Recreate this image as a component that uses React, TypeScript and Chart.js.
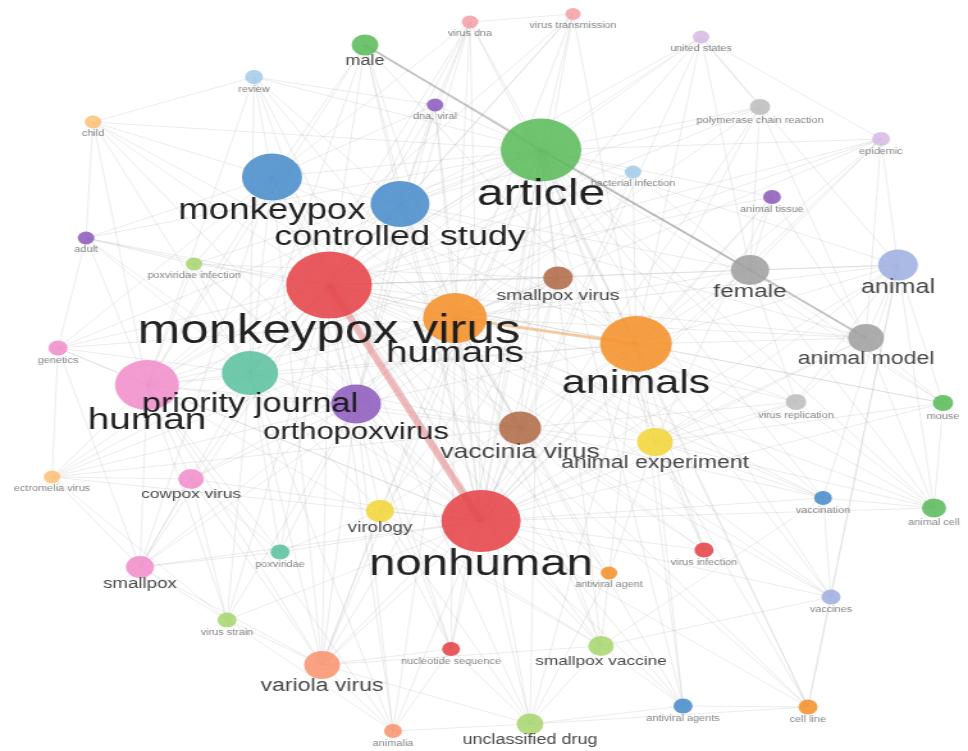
import React, { useEffect, useRef } from "react";
import { Chart, registerables } from "chart.js";

Chart.register(...registerables);

// ---------- data ----------
const nodeKeys = [
  "mpv", "nh", "art", "hms", "ans", "hmn", "mpx", "cs", "pj", "opv",
  "vv", "fem", "anl", "amod", "aexp", "spv", "sp", "cpv", "vir", "var",
  "spvac", "ucd", "male", "pcr", "vrep", "mou", "acell", "vdna", "vtr", "us",
  "rev", "dna", "child", "epi", "bact", "atis", "adult", "pxi", "gen", "ect",
  "vacn", "pxv", "vinf", "ava", "vcs", "vstr", "nseq", "avas", "cell", "anim",
];

const nodeLabels = [
  "monkeypox virus", "nonhuman", "article", "humans", "animals", "human", "monkeypox", "controlled study", "priority journal", "orthopoxvirus",
  "vaccinia virus", "female", "animal", "animal model", "animal experiment", "smallpox virus", "smallpox", "cowpox virus", "virology", "variola virus",
  "smallpox vaccine", "unclassified drug", "male", "polymerase chain reaction", "virus replication", "mouse", "animal cell", "virus dna", "virus transmission", "united states",
  "review", "dna, viral", "child", "epidemic", "bacterial infection", "animal tissue", "adult", "poxviridae infection", "genetics", "ectromelia virus",
  "vaccination", "poxviridae", "virus infection", "antiviral agent", "vaccines", "virus strain", "nucleotide sequence", "antiviral agents", "cell line", "animalia",
];

const layoutX = [
  329, 481, 541, 455, 636, 147, 272, 400, 250, 356,
  520, 750, 898, 866, 655, 558, 140, 191, 380, 322,
  601, 530, 365, 760, 796, 943, 934, 470, 573, 701,
  254, 435, 93, 881, 633, 772, 86, 194, 58, 52,
  823, 280, 704, 609, 831, 227, 451, 683, 808, 393,
];

const layoutY = [
  285, 521, 150, 318, 344, 385, 177, 204, 373, 404,
  428, 270, 265, 338, 442, 278, 567, 479, 511, 665,
  646, 724, 45, 107, 402, 403, 508, 22, 14, 37,
  77, 105, 122, 139, 172, 197, 238, 264, 348, 477,
  498, 552, 550, 573, 597, 620, 649, 706, 707, 731,
];

const weights = [
  33.5, 31, 31.5, 25, 28, 25, 23.5, 23, 22, 19.5,
  16.5, 15, 15.5, 14, 14, 11.5, 11, 10, 11, 14,
  10, 10.5, 10.5, 8, 8, 8, 9.5, 6.5, 6, 6.5,
  7, 6.5, 6.5, 7, 6.5, 7, 6.5, 6.5, 7.5, 6.5,
  7, 7.5, 7.5, 6.5, 7.5, 7.5, 7, 7.5, 7.5, 7,
];

const clusters = [
  "red", "red", "green", "orange", "orange", "pink", "blue", "blue", "teal", "purple",
  "brown", "gray", "periwinkle", "gray", "yellow", "brown", "pink", "pink", "yellow", "salmon",
  "lightgreen", "lightgreen", "green", "lightgray", "lightgray", "green", "green", "lightpink", "lightpink", "lightpurple",
  "lightblue", "purple", "lightorange", "lightpurple", "lightblue", "purple", "purple", "lightgreen", "pink", "lightorange",
  "blue", "teal", "red", "orange", "periwinkle", "lightgreen", "red", "blue", "orange", "salmon",
];

// co-occurrence links: node followed by its linked nodes
const adjacency = [
  "mpv: nh art hms ans hmn mpx cs pj opv vv spv fem anl amod aexp sp cpv vir var spvac ucd",
  "nh: art hms ans hmn mpx cs pj opv vv spv fem anl amod aexp sp cpv vir var spvac ucd",
  "art: hms ans hmn mpx cs pj opv vv spv fem anl amod aexp vir var spvac ucd",
  "hms: ans hmn mpx cs pj opv vv spv fem anl amod aexp sp var spvac ucd",
  "ans: hmn mpx cs pj opv vv spv fem anl amod aexp vir var ucd",
  "hmn: mpx cs pj opv vv sp cpv var spvac",
  "mpx: cs pj opv vv sp var rev child adult gen pxi male vdna",
  "cs: pj opv vv fem amod aexp rev dna pcr us vdna",
  "pj: opv vv sp var vir vstr pxv anim",
  "opv: vv spv cpv var ect pxv pxi",
  "vv: spv spvac aexp vrep vacn vcs cell ect",
  "fem: anl us pcr epi atis mou vrep acell",
  "anl: amod aexp us epi mou acell vcs",
  "amod: aexp vrep mou acell atis epi pcr",
  "aexp: vrep mou acell vacn vinf cell ava avas",
  "spv: var sp cpv vir ect pxi",
  "sp: var cpv vstr pxv ect gen",
  "cpv: var vstr pxv ect",
  "vir: var spvac ucd nseq pxv",
  "var: vstr nseq anim ucd spvac",
  "spvac: ucd vacn vcs avas ava",
  "ucd: avas ava cell nseq anim",
  "male: mpv nh hms ans cs hmn pj fem",
  "vdna: mpv nh art hms ans pj opv vtr dna",
  "vtr: mpv nh art hms ans hmn pj",
  "us: mpv nh art hms ans epi pcr",
  "rev: mpv nh art hms hmn pj child dna",
  "dna: mpv nh art hms mpx opv",
  "pcr: mpv nh art hms ans",
  "child: mpv nh hmn hms pj art adult",
  "epi: mpv nh art hms ans hmn",
  "bact: mpv nh art hms ans fem",
  "atis: mpv nh art ans aexp",
  "adult: mpv nh hmn hms pj art gen pxi",
  "pxi: mpv nh hmn pj art",
  "gen: mpv nh hmn pj hms art ect",
  "vrep: mpv nh art ans anl",
  "mou: mpv nh art ans acell",
  "ect: mpv nh hmn pj cpv vstr",
  "vacn: mpv nh art hms ans anl acell vcs",
  "acell: mpv nh art ans vrep",
  "pxv: mpv nh hmn",
  "vinf: mpv nh art ans vv",
  "ava: mpv nh ans hms",
  "vcs: mpv nh art ans hms",
  "vstr: mpv nh hmn opv",
  "nseq: mpv nh opv art hms",
  "avas: mpv nh art hms ans",
  "cell: mpv nh art ans anl avas vcs",
  "anim: mpv nh hmn hms opv nseq vstr",
];

const strongLinks: [string, string, string][] = [
  ["mpv", "nh", "red"],
  ["hms", "ans", "orange"],
  ["male", "art", "gray"],
  ["art", "fem", "gray"],
  ["fem", "amod", "gray"],
];

// ---------- styles ----------
const palette: Record<string, string> = {
  red: "rgba(229,72,76,0.9)",
  blue: "rgba(78,143,204,0.9)",
  green: "rgba(92,188,92,0.88)",
  orange: "rgba(245,148,48,0.9)",
  purple: "rgba(142,92,188,0.88)",
  brown: "rgba(176,108,72,0.88)",
  pink: "rgba(240,142,204,0.88)",
  gray: "rgba(160,160,160,0.88)",
  lightgray: "rgba(188,188,188,0.85)",
  teal: "rgba(92,194,158,0.88)",
  yellow: "rgba(243,214,58,0.88)",
  lightgreen: "rgba(168,214,112,0.88)",
  salmon: "rgba(248,148,112,0.88)",
  periwinkle: "rgba(158,176,225,0.88)",
  lightpink: "rgba(245,158,163,0.85)",
  lightpurple: "rgba(214,184,228,0.85)",
  lightblue: "rgba(162,203,234,0.85)",
  lightorange: "rgba(250,193,116,0.85)",
};

const strongStyle: Record<string, { color: string; width: number }> = {
  red: { color: "rgba(226,120,124,0.5)", width: 6 },
  orange: { color: "rgba(246,168,96,0.55)", width: 3 },
  gray: { color: "rgba(130,130,130,0.45)", width: 1.8 },
};

const STRETCH = 1.28;
const DISPLAY_W = 968;
const DISPLAY_H = 751;
const FONT = '"Liberation Sans", Arial, sans-serif';

function labelFont(r: number) {
  return r >= 10 ? 1.12 * r + 2.3 : 8.5;
}

function idx(key: string) {
  return nodeKeys.indexOf(key);
}

function buildEdges() {
  const seen = new Set<string>();
  const pairs: [number, number][] = [];
  adjacency.forEach((line) => {
    const [src, rest] = line.split(":");
    const a = idx(src.trim());
    rest.trim().split(/\s+/).forEach((t) => {
      const b = idx(t);
      if (a < 0 || b < 0 || a === b) return;
      const k = a < b ? `${a}-${b}` : `${b}-${a}`;
      if (seen.has(k)) return;
      seen.add(k);
      pairs.push([a, b]);
    });
  });
  return pairs;
}

function pairsToLine(pairs: [number, number][]) {
  const pts: { x: number; y: number | null }[] = [];
  pairs.forEach(([a, b]) => {
    pts.push({ x: layoutX[a], y: layoutY[a] });
    pts.push({ x: layoutX[b], y: layoutY[b] });
    pts.push({ x: layoutX[b], y: null });
  });
  return pts;
}

const labelPlugin = {
  id: "nodeLabels",
  afterDatasetsDraw(chart: any) {
    const meta = chart.getDatasetMeta(0);
    const ctx = chart.ctx;
    ctx.save();
    ctx.textAlign = "center";
    ctx.textBaseline = "alphabetic";
    meta.data.forEach((el: any, i: number) => {
      const r = weights[i];
      const fs = labelFont(r);
      ctx.font = `${fs}px ${FONT}`;
      ctx.fillStyle =
        fs >= 24 ? "rgba(22,22,22,0.95)" : fs >= 12 ? "rgba(55,55,55,0.92)" : "rgba(100,100,100,0.8)";
      const off = fs >= 12 ? 0.6 * fs + 1 : 0.7 * fs + 2;
      ctx.fillText(nodeLabels[i], el.x, el.y + r + off);
    });
    ctx.restore();
  },
};

export default function App() {
  const ref = useRef<HTMLCanvasElement | null>(null);

  useEffect(() => {
    if (!ref.current) return;
    const edges = buildEdges();
    const strongGroups: Record<string, [number, number][]> = {};
    strongLinks.forEach(([a, b, s]) => {
      (strongGroups[s] = strongGroups[s] || []).push([idx(a), idx(b)]);
    });

    const datasets: any[] = [
      {
        type: "bubble",
        data: nodeKeys.map((_, i) => ({ x: layoutX[i], y: layoutY[i], r: weights[i] })),
        backgroundColor: clusters.map((c) => palette[c]),
        borderWidth: 0,
        order: 0,
        clip: false,
      },
      {
        type: "line",
        data: pairsToLine(edges),
        borderColor: "rgba(165,165,165,0.24)",
        borderWidth: 0.9,
        pointRadius: 0,
        pointHoverRadius: 0,
        tension: 0,
        fill: false,
        spanGaps: false,
        order: 2,
      },
      ...Object.keys(strongGroups).map((s) => ({
        type: "line",
        data: pairsToLine(strongGroups[s]),
        borderColor: strongStyle[s].color,
        borderWidth: strongStyle[s].width,
        pointRadius: 0,
        pointHoverRadius: 0,
        tension: 0,
        fill: false,
        spanGaps: false,
        order: 1,
      })),
    ];

    const chart = new Chart(ref.current, {
      type: "bubble",
      data: { datasets },
      options: {
        animation: false,
        responsive: false,
        devicePixelRatio: 1,
        events: [],
        layout: { padding: 0, autoPadding: false },
        plugins: { legend: { display: false }, tooltip: { enabled: false } },
        scales: {
          x: { type: "linear", min: 0, max: DISPLAY_W, display: false },
          y: { type: "linear", min: 0, max: DISPLAY_H, reverse: true, display: false },
        },
      },
      plugins: [labelPlugin],
    } as any);
    return () => chart.destroy();
  }, []);

  return (
    <div style={{ position: "absolute", left: 0, top: 0, width: DISPLAY_W, height: DISPLAY_H, background: "#fff" }}>
      <canvas
        ref={ref}
        width={Math.round(DISPLAY_W / STRETCH)}
        height={DISPLAY_H}
        style={{ width: `${DISPLAY_W}px`, height: `${DISPLAY_H}px`, display: "block" }}
      />
    </div>
  );
}
